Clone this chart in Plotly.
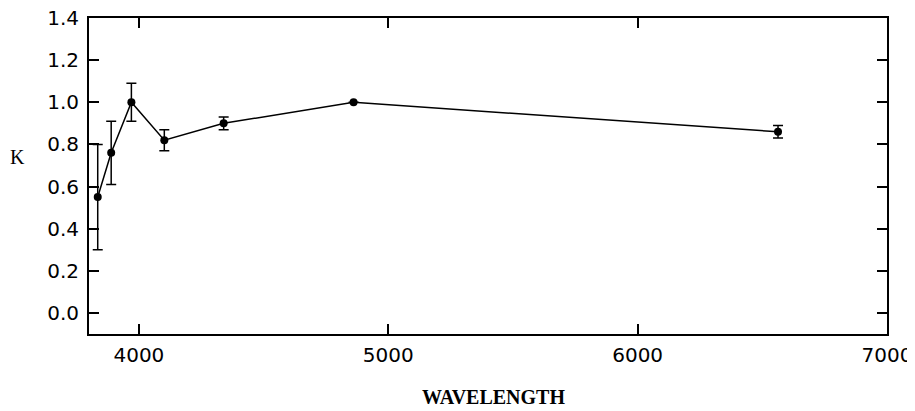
import plotly.graph_objects as go

wavelength = [3835, 3889, 3970, 4102, 4340, 4861, 6563]
k_values = [0.55, 0.76, 1.00, 0.82, 0.90, 1.00, 0.86]
k_errors = [0.25, 0.15, 0.09, 0.05, 0.03, 0.0, 0.03]

x_ticks = [4000, 5000, 6000, 7000]
y_ticks = [0.0, 0.2, 0.4, 0.6, 0.8, 1.0, 1.2, 1.4]

fig = go.Figure()
fig.add_trace(go.Scatter(
    x=wavelength, y=k_values,
    mode="lines+markers",
    line=dict(color="black", width=1.5),
    marker=dict(color="black", size=8),
    error_y=dict(type="data", array=k_errors, visible=True,
                 color="black", thickness=1.5, width=5),
    showlegend=False,
    cliponaxis=False,
))

tick_font = dict(family="DejaVu Sans", size=20, color="black")
axis_common = dict(
    showgrid=False, zeroline=False, automargin=False,
    showline=True, linecolor="black", linewidth=2, mirror="ticks",
    ticks="inside", ticklen=10, tickwidth=1.5, tickcolor="black",
    tickfont=tick_font, ticklabeloverflow="allow",
)

fig.update_xaxes(range=[3800, 7000], tickvals=x_ticks,
                 ticktext=[str(v) for v in x_ticks], ticklabelstandoff=2,
                 **axis_common)
fig.update_yaxes(range=[-0.1, 1.4], tickvals=y_ticks,
                 ticktext=[f"{v:.1f}" for v in y_ticks], ticklabelstandoff=4,
                 **axis_common)

fig.add_annotation(text="WAVELENGTH", xref="paper", yref="paper",
                   x=0.5075, y=0, yshift=-63, showarrow=False,
                   xanchor="center", yanchor="middle",
                   font=dict(family="Liberation Serif", size=20, color="black",
                             weight="bold"))
fig.add_annotation(text="K", xref="paper", yref="paper",
                   x=-0.089, y=0.561, showarrow=False,
                   xanchor="center", yanchor="middle",
                   font=dict(family="Liberation Serif", size=20, color="black"))

# page body has an 8px default margin; compensate so the frame lands in place
fig.update_layout(
    width=907, height=403,
    margin=dict(l=81, r=28, t=10, b=77, autoexpand=False),
    plot_bgcolor="white", paper_bgcolor="white",
)

fig.write_html("out.html")
